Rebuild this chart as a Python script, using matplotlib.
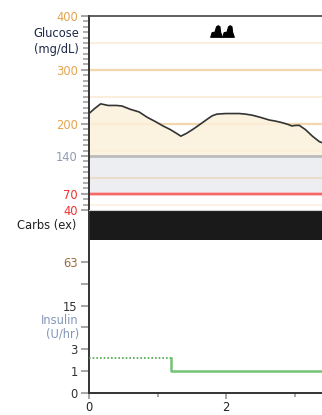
import numpy as np
import matplotlib
matplotlib.use("Agg")
import matplotlib.pyplot as plt
from matplotlib.path import Path

plt.rcParams['font.family'] = ['DejaVu Sans']

# Glucose trace (hours, mg/dL)
glucose_t = [0.0, 0.08, 0.17, 0.28, 0.40, 0.48, 0.60, 0.73, 0.85, 0.97, 1.08,
             1.19, 1.28, 1.34, 1.42, 1.52, 1.61, 1.72, 1.80, 1.87, 2.00, 2.10,
             2.19, 2.28, 2.38, 2.50, 2.63, 2.72, 2.82, 2.90, 2.96, 3.02, 3.07,
             3.16, 3.26, 3.36, 3.40]
glucose_v = [219, 228, 237, 234, 234, 233, 227, 222, 212, 204, 196,
             189, 182, 177, 182, 190, 198, 208, 215, 218, 219, 219,
             219, 218, 216, 212, 207, 205, 202, 199, 196, 197, 197,
             189, 177, 167, 165]

# Event markers along the top of the glucose panel
event_t = [1.85, 2.03]
event_v = [372, 372]

# Basal insulin (U/hr): scheduled segment, then delivered rate
sched_t = [0.0, 1.19]
sched_rate = [2, 2]
basal_t = [1.19, 1.19, 3.40]
basal_rate = [2, 1, 1]

glucose_ticks = [400, 300, 200, 140, 70, 40]
glucose_tick_colors = ['#e3a44e', '#e3a44e', '#e3a44e', '#8f9bb0', '#f03030', '#f03030']
insulin_ticks = [0, 1, 3, 7, 15, 31, 63]
insulin_tick_labels = ['0', '1', '3', '', '15', '', '63']
x_major = [0, 2]
x_minor = [1, 3]

FS = 8.3
W, H = 322, 415
fig = plt.figure(figsize=(W / 100, H / 100), dpi=100)
left = 89 / W
width = 233 / W
xmax = 3.40

def frac(y_top, y_bot):
    return 1 - y_bot / H, (y_bot - y_top) / H

# ---------- glucose panel ----------
b, h = frac(16, 210)
axg = fig.add_axes([left, b, width, h])
axg.set_xlim(0, xmax)
axg.set_ylim(40, 400)
axg.axhspan(70, 140, color='#eceef1', zorder=0, lw=0)
for lvl in [350, 250, 150]:
    axg.axhline(lvl, color='#fbeedb', lw=1.4, zorder=1)
for lvl in [300, 200]:
    axg.axhline(lvl, color='#f3d8ad', lw=1.6, zorder=1)
axg.axhline(100, color='#eadcc8', lw=1.4, zorder=1)
axg.axhline(50, color='#fbefe0', lw=1.2, zorder=1)
axg.fill_between(glucose_t, glucose_v, 140, color='#fbf0da', alpha=0.85, lw=0, zorder=1.5)
axg.axhline(140, color='#bcbcbc', lw=2.0, zorder=2)
axg.axhline(70, color='#f9b4b4', lw=2.6, zorder=2)
axg.axhline(70, color='#f05050', lw=1.1, zorder=2.1)
axg.plot(glucose_t, glucose_v, color='#333333', lw=1.2, zorder=3)

ev_marker = Path([(-1.0, -1.0), (-0.75, -0.2), (-0.25, -0.1), (0.0, 0.8),
                  (0.3, 1.0), (0.6, 0.8), (0.7, -0.1), (1.0, -1.0), (-1.0, -1.0)],
                 [Path.MOVETO] + [Path.LINETO] * 7 + [Path.CLOSEPOLY])
axg.scatter(event_t, event_v, marker=ev_marker, s=70, color='black',
            edgecolor='black', lw=0.8, zorder=4)

axg.set_yticks(glucose_ticks)
axg.set_yticklabels([str(t) for t in glucose_ticks])
for lab, c in zip(axg.get_yticklabels(), glucose_tick_colors):
    lab.set_color(c)
axg.set_yticks(np.arange(40, 401, 10), minor=True)
axg.tick_params(axis='y', which='major', length=6, width=1.1, color='#8e8e8e', labelsize=FS, pad=2)
axg.tick_params(axis='y', which='minor', length=4, width=1.1, color='#9a9a9a')
axg.set_xticks([])
for s in ['right', 'bottom']:
    axg.spines[s].set_visible(False)
axg.spines['left'].set_color('#333333')
axg.spines['left'].set_linewidth(1.4)
axg.spines['top'].set_color('#444444')
axg.spines['top'].set_linewidth(1.2)
axg.text(-0.043, 352, 'Glucose\n(mg/dL)', transform=axg.get_yaxis_transform(),
         ha='right', va='center', fontsize=FS, color='#1e2a48', linespacing=1.3)

# ---------- carbs panel ----------
b, h = frac(210, 240)
axc = fig.add_axes([left, b, width, h])
axc.set_xlim(0, xmax)
axc.set_facecolor('#1a1a1a')
axc.set_xticks([])
axc.set_yticks([])
for s in ['right', 'bottom']:
    axc.spines[s].set_visible(False)
axc.spines['top'].set_color('#d0d0d0')
axc.spines['top'].set_linewidth(0.8)
axc.spines['left'].set_color('#333333')
axc.spines['left'].set_linewidth(1.4)
axc.text(-0.055, 0.5, 'Carbs (ex)', transform=axc.transAxes,
         ha='right', va='center', fontsize=FS, color='#222222')

# ---------- insulin panel ----------
b, h = frac(240, 393)
axi = fig.add_axes([left, b, width, h])
axi.set_xlim(0, xmax)
axi.set_yscale('function', functions=(lambda y: np.log2(np.clip(y, 0, None) + 1),
                                      lambda v: 2 ** v - 1))
axi.set_ylim(0, 127)
axi.step(sched_t, sched_rate, where='post', color='#46a846', lw=1.2,
         linestyle=(0, (1, 1.2)), zorder=3)
axi.plot(basal_t, basal_rate, color='#5cb85c', lw=1.8, alpha=0.85, zorder=3)
axi.set_yticks(insulin_ticks)
axi.set_yticklabels(insulin_tick_labels)
axi.set_yticks([], minor=True)
axi.tick_params(axis='y', which='major', length=6, width=1.1, color='#8e8e8e',
                labelsize=FS, pad=2, labelcolor='#333333')
axi.get_yticklabels()[-1].set_color('#9a6a3c')
axi.text(-0.043, 7, 'Insulin\n(U/hr)', transform=axi.get_yaxis_transform(),
         ha='right', va='center', fontsize=FS, color='#8496b8', linespacing=1.05)
axi.set_xticks(x_major)
axi.set_xticklabels([str(t) for t in x_major])
axi.set_xticks(x_minor, minor=True)
axi.tick_params(axis='x', which='major', length=4, width=1.1, color='#8e8e8e',
                labelsize=FS, pad=2, labelcolor='#222222')
axi.tick_params(axis='x', which='minor', length=3, width=1.1, color='#8e8e8e')
for s in ['right', 'top']:
    axi.spines[s].set_visible(False)
for s in ['left', 'bottom']:
    axi.spines[s].set_color('#333333')
    axi.spines[s].set_linewidth(1.4)

fig.savefig('out.png', dpi=100)
